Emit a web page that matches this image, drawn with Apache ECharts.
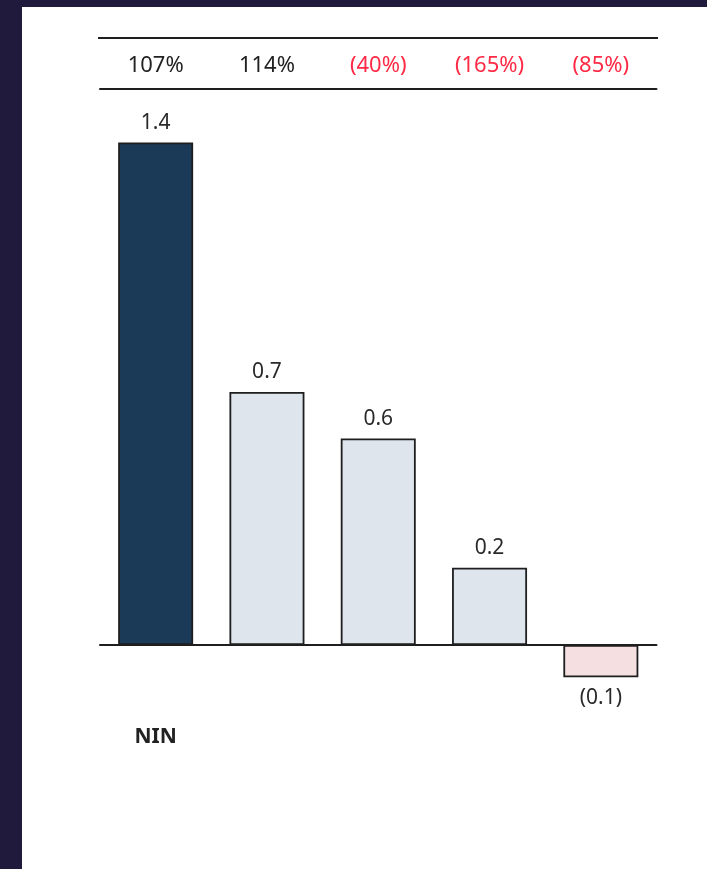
<!DOCTYPE html>
<html>
<head>
<meta charset="utf-8">
<script src="https://cdn.jsdelivr.net/npm/echarts@6/dist/echarts.min.js"></script>
<style>
html,body{margin:0;padding:0;width:707px;height:869px;background:#201a3c;overflow:hidden;}
#c{position:absolute;left:22px;top:7px;width:685px;height:862px;background:#ffffff;}
</style>
</head>
<body>
<div id="c"></div>
<script>
var categories = ['NIN', '', '', '', ''];
var values = [1.4, 0.705, 0.575, 0.215, -0.09];
var percentLabels = ['107%', '114%', '(40%)', '(165%)', '(85%)'];
var percentNegative = [false, false, true, true, true];
var barColors = ['#1b3a57', '#dee5ed', '#dee5ed', '#dee5ed', '#f5dfe1'];

var FONT = '"Noto Sans", "Open Sans", sans-serif';
var chart = echarts.init(document.getElementById('c'), null, {renderer: 'canvas'});

var data = values.map(function (v, i) {
  return {
    value: v,
    itemStyle: {color: barColors[i], borderColor: '#1e1e1e', borderWidth: 1.8},
    label: {position: v < 0 ? 'bottom' : 'top', distance: v < 0 ? 10 : 9}
  };
});

chart.setOption({
  animation: false,
  backgroundColor: '#ffffff',
  grid: {left: 78, right: 50.5, top: 99.5, height: 610.3},
  xAxis: [
    {
      type: 'category',
      data: categories,
      axisLine: {onZero: true, lineStyle: {color: '#1e1e1e', width: 2}},
      axisTick: {show: false},
      axisLabel: {interval: 0, margin: 10, color: '#222222', fontFamily: FONT, fontSize: 21, fontWeight: 'bold'}
    },
    {
      type: 'category',
      position: 'top',
      offset: 18,
      data: percentLabels,
      axisLine: {show: true, onZero: false, lineStyle: {color: '#1e1e1e', width: 2}},
      axisTick: {show: false},
      axisLabel: {
        interval: 0,
        hideOverlap: false,
        margin: 12,
        fontFamily: FONT,
        fontSize: 22,
        formatter: function (v, i) { return percentNegative[i] ? '{n|' + v + '}' : '{p|' + v + '}'; },
        rich: {
          p: {color: '#222222', fontFamily: FONT, fontSize: 22},
          n: {color: '#ff2a45', fontFamily: FONT, fontSize: 22}
        }
      }
    }
  ],
  yAxis: {
    type: 'value',
    min: -0.2,
    max: 1.5,
    show: false,
    splitLine: {show: false}
  },
  graphic: [
    {
      type: 'line',
      shape: {x1: 76, y1: 31, x2: 636, y2: 31},
      style: {stroke: '#1e1e1e', lineWidth: 2}
    }
  ],
  series: [
    {
      type: 'bar',
      xAxisIndex: 0,
      data: data,
      barWidth: 75,
      label: {
        show: true,
        color: '#2a2a2a',
        fontFamily: FONT,
        fontSize: 21,
        formatter: function (p) {
          var v = p.value;
          return v < 0 ? '(' + Math.abs(v).toFixed(1) + ')' : v.toFixed(1);
        }
      }
    }
  ]
});
</script>
</body>
</html>
